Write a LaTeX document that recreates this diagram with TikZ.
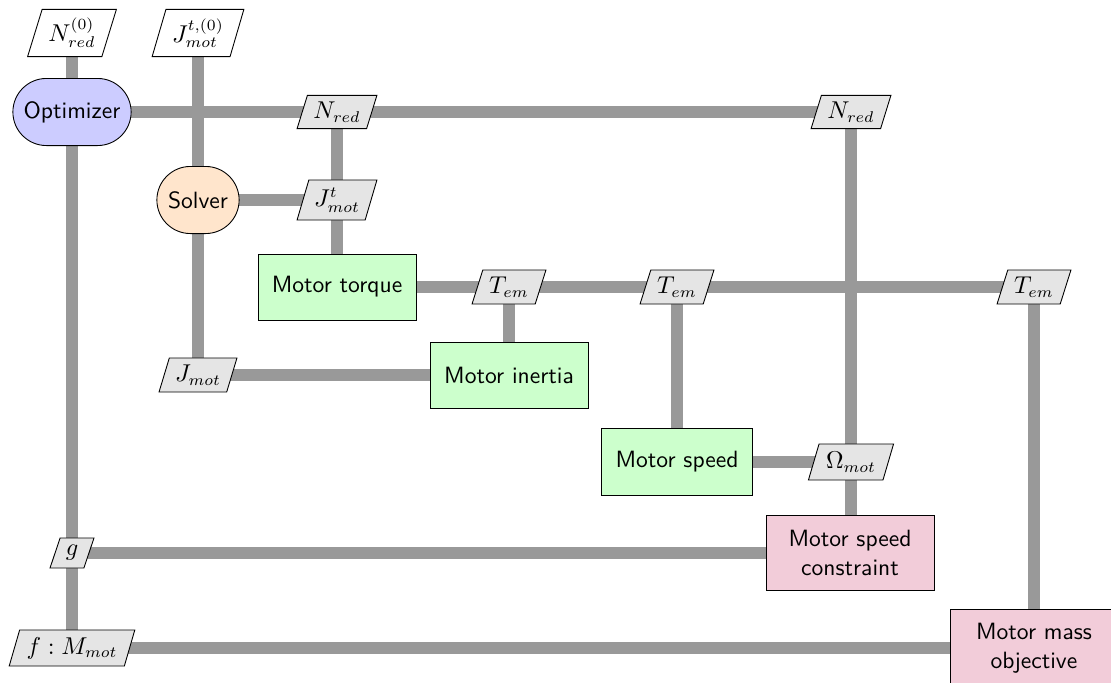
\documentclass[tikz,border=0pt]{standalone}
\usetikzlibrary{shapes.geometric,shapes.misc,backgrounds}
\definecolor{optcol}{RGB}{204,204,255}
\definecolor{solcol}{RGB}{255,229,204}
\definecolor{funcol}{RGB}{204,255,204}
\definecolor{concol}{RGB}{242,204,217}
\definecolor{datacol}{RGB}{229,229,229}
\definecolor{linecol}{RGB}{153,153,153}
\tikzset{
  base/.style={draw=black, line width=0.4pt, inner sep=2pt, font=\sffamily\fontsize{10.6}{13}\selectfont, align=center},
  optbox/.style={base, rounded rectangle, fill=optcol, minimum width=57.2pt, minimum height=30.2pt},
  solbox/.style={base, rounded rectangle, fill=solcol, minimum width=41pt, minimum height=30.2pt},
  funbox/.style={base, rectangle, fill=funcol, minimum width=71.1pt, minimum height=29.7pt},
  conbox/.style={base, rectangle, fill=concol, minimum width=75.6pt, minimum height=34pt},
  databox/.style={draw=black, line width=0.4pt, trapezium, trapezium left angle=70, trapezium right angle=110,
    trapezium stretches=true, inner sep=1pt, fill=datacol, font=\fontsize{10.6}{13}\selectfont},
  initbox/.style={databox, fill=white},
  conn/.style={draw=linecol, line width=5pt}
}
\begin{document}
\begin{tikzpicture}[x=0.45pt,y=-0.45pt]
\useasboundingbox (0,0) rectangle (1111,683);
% process nodes
\node[optbox] (opt) at (72,112) {Optimizer};
\node[solbox] (sol) at (198,200) {Solver};
\node[funbox] (torque) at (337,287) {Motor torque};
\node[funbox] (inertia) at (509,375) {Motor inertia};
\node[funbox, minimum width=68pt, minimum height=30.2pt] (speed) at (677,462) {Motor speed};
\node[conbox] (scon) at (850,553) {Motor speed\\constraint};
\node[conbox, minimum height=35pt] (mobj) at (1034,648) {Motor mass\\objective};
% data nodes
\node[initbox, minimum width=40pt, minimum height=21.2pt] (nred0) at (72,33) {$N_{red}^{(0)}$};
\node[initbox, minimum width=41.4pt, minimum height=21.2pt] (jt0) at (198,33) {$J_{mot}^{t,(0)}$};
\node[databox, minimum width=36pt, minimum height=15pt] (nred1) at (337,112) {$N_{red}$};
\node[databox, minimum width=36pt, minimum height=15pt] (nred2) at (851,112) {$N_{red}$};
\node[databox, minimum width=36pt, minimum height=18pt] (jt) at (337,200) {$J_{mot}^{t}$};
\node[databox, minimum width=33.3pt, minimum height=15.3pt] (tem1) at (509,287) {$T_{em}$};
\node[databox, minimum width=33.3pt, minimum height=15.3pt] (tem2) at (677,287) {$T_{em}$};
\node[databox, minimum width=33.3pt, minimum height=15.3pt] (tem3) at (1034,287) {$T_{em}$};
\node[databox, minimum width=35.1pt, minimum height=15.3pt] (jmot) at (198,375) {$J_{mot}$};
\node[databox, minimum width=38.3pt, minimum height=16.2pt] (omega) at (851,462) {$\Omega_{mot}$};
\node[databox, minimum width=19.8pt, minimum height=13.5pt] (g) at (72,553) {$g$};
\node[databox, minimum width=56.7pt, minimum height=16.2pt] (f) at (72,648) {$f:M_{mot}$};
% connectors
\begin{scope}[on background layer]
\draw[conn] (nred0.center) -- (opt.center);
\draw[conn] (jt0.center) -- (sol.center);
\draw[conn] (opt.center) -- (nred1.center) -- (nred2.center);
\draw[conn] (nred1.center) -- (jt.center);
\draw[conn] (sol.center) -- (jt.center);
\draw[conn] (jt.center) -- (torque.center);
\draw[conn] (nred2.center) -- (omega.center);
\draw[conn] (omega.center) -- (omega.center |- scon.center);
\draw[conn] (torque.center) -- (tem1.center) -- (tem2.center) -- (tem3.center);
\draw[conn] (tem1.center) -- (inertia.center);
\draw[conn] (tem2.center) -- (speed.center);
\draw[conn] (tem3.center) -- (mobj.center);
\draw[conn] (inertia.center) -- (jmot.center);
\draw[conn] (jmot.center) -- (sol.center);
\draw[conn] (speed.center) -- (omega.center);
\draw[conn] (scon.center) -- (g.center);
\draw[conn] (g.center) -- (opt.center);
\draw[conn] (mobj.center) -- (f.center);
\draw[conn] (f.center) -- (g.center);
\end{scope}
\end{tikzpicture}
\end{document}
